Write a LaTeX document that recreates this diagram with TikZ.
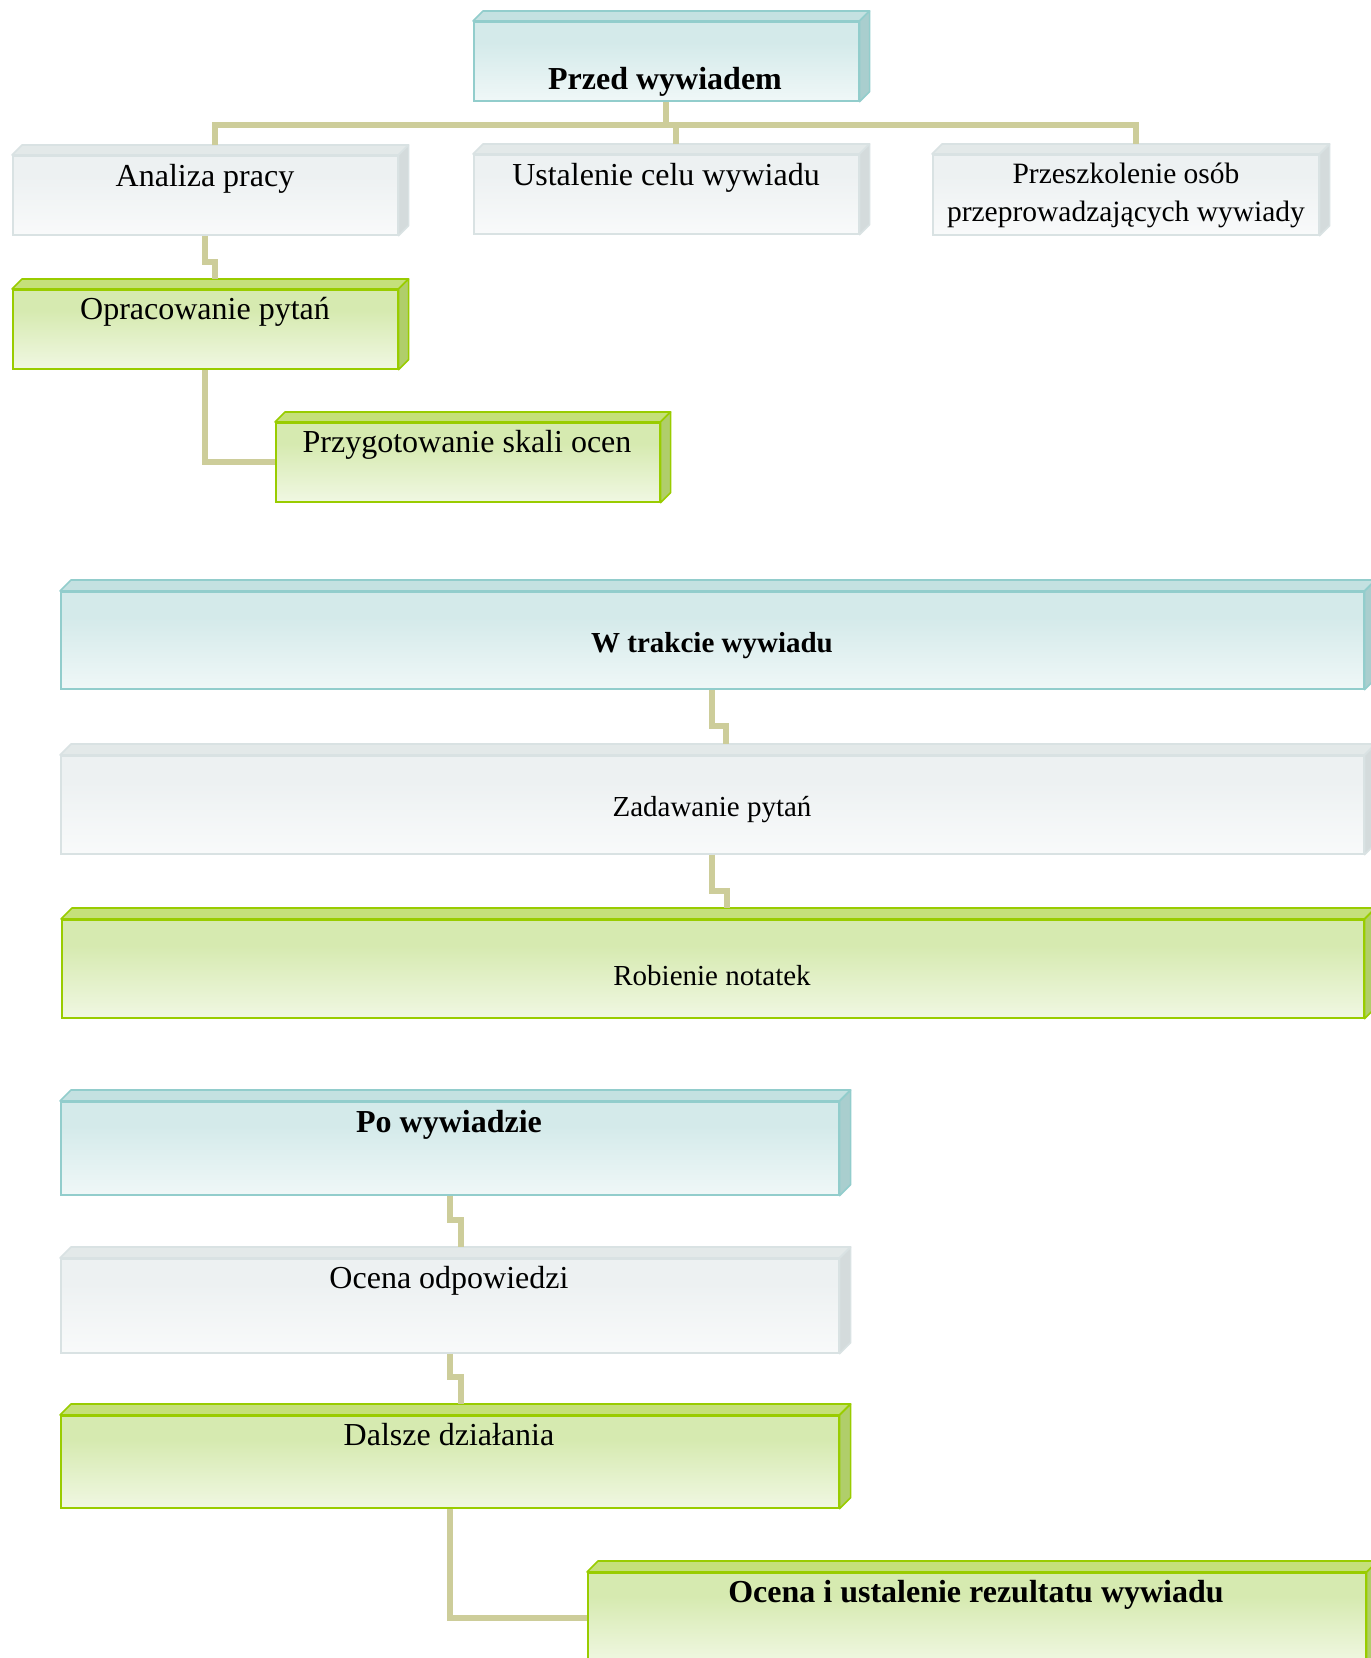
\documentclass[tikz,border=0pt]{standalone}
\usepackage{fontspec}
\setmainfont{Liberation Serif}
\usetikzlibrary{calc}
\definecolor{tealF}{HTML}{D4EAEA}
\definecolor{tealT}{HTML}{C4E1E1}
\definecolor{tealS}{HTML}{A9CECE}
\definecolor{tealB}{HTML}{92CDCC}
\definecolor{grayF}{HTML}{EDF1F2}
\definecolor{grayT}{HTML}{E3E9E9}
\definecolor{grayS}{HTML}{D4DBDC}
\definecolor{grayB}{HTML}{D9E2E3}
\definecolor{grnF}{HTML}{D6EAB0}
\definecolor{grnT}{HTML}{C5E07A}
\definecolor{grnS}{HTML}{B0CE6A}
\definecolor{grnB}{HTML}{99CC00}
\definecolor{connC}{HTML}{CDCD9A}
\pgfdeclareverticalshading{tealsh}{100bp}{color(0bp)=(white); color(4bp)=(white); color(62bp)=(tealF); color(100bp)=(tealF)}
\pgfdeclareverticalshading{graysh}{100bp}{color(0bp)=(white); color(4bp)=(white); color(62bp)=(grayF); color(100bp)=(grayF)}
\pgfdeclareverticalshading{grnsh}{100bp}{color(0bp)=(white); color(4bp)=(white); color(62bp)=(grnF); color(100bp)=(grnF)}
\newcommand{\cubebox}[7]{%
  \node[draw=#2B, line width=1.6pt, shade, shading=#2sh, inner sep=0pt, anchor=north west,
        minimum width={#5-#3}, minimum height={#6-#4}] (#1) at (#3,#4) {};
  \filldraw[fill=#2T, draw=#2B, line width=1.6pt, line join=round]
     (#1.north west) -- ++(#7,-#7) -- ($(#1.north east)+(#7,-#7)$) -- (#1.north east) -- cycle;
  \filldraw[fill=#2S, draw=#2B, line width=1.6pt, line join=round]
     (#1.north east) -- ++(#7,-#7) -- ($(#1.south east)+(#7,-#7)$) -- (#1.south east) -- cycle;
  \coordinate (#1-bt) at ($(#1.north)+(#7,-#7)$);
}
\tikzset{
  conn/.style={draw=connC, line width=6pt, line join=miter},
  lbl/.style={anchor=base, inner sep=0pt, font=\fontsize{32}{38}\selectfont},
  lblm/.style={anchor=base, inner sep=0pt, font=\fontsize{29}{35}\selectfont},
}
\begin{document}
\begin{tikzpicture}[x=1pt,y=-1pt]
\useasboundingbox (0,0) rectangle (1371,1658);
\fill[white] (0,0) rectangle (1371,1658);
\clip (0,0) rectangle (1371,1658);

% --- Przed wywiadem section ---
\cubebox{przed}{teal}{473}{21}{858}{100}{10}
\cubebox{analiza}{gray}{12}{155}{397}{234}{10}
\cubebox{ustal}{gray}{473}{154}{858}{233}{10}
\cubebox{przesz}{gray}{932}{154}{1318}{234}{10}
\cubebox{oprac}{grn}{12}{289}{397}{368}{10}
\cubebox{przyg}{grn}{275}{422}{659}{501}{10}

\coordinate (bus) at (665,125);
\draw[conn] (przed.south) -- (przed.south |- bus);
\draw[conn] (analiza-bt) |- (bus) -| (przesz-bt);
\draw[conn] (ustal-bt) -- (ustal-bt |- bus);
\draw[conn] (analiza.south) -- ++(0,26) -| (oprac-bt);
\draw[conn] (oprac.south) |- (przyg.west);

\node[lbl, font=\bfseries\fontsize{32}{38}\selectfont] (przed-t) at (665,89) {Przed wywiadem};
\node[lbl] (analiza-t) at (205,186) {Analiza pracy};
\node[lbl] (ustal-t) at (666,185) {Ustalenie celu wywiadu};
\node[lbl, font=\fontsize{29.5}{37.5}\selectfont, align=center] (przesz-t) at (1126,221) {Przeszkolenie osób\\przeprowadzających wywiady};
\node[lbl] (oprac-t) at (205,319) {Opracowanie pytań};
\node[lbl] (przyg-t) at (467,452) {Przygotowanie skali ocen};

% --- W trakcie wywiadu section ---
\cubebox{wtr}{teal}{60}{591}{1363}{688}{11}
\cubebox{zad}{gray}{60}{755}{1363}{853}{11}
\cubebox{rob}{grn}{61}{919}{1363}{1017}{11}
\coordinate (zad-in) at ($(zad.north)+(14,-11)$);
\coordinate (rob-in) at ($(rob.north)+(14,-11)$);

\draw[conn] (wtr.south) -- ++(0,36) -| (zad-in);
\draw[conn] (zad.south) -- ++(0,36) -| (rob-in);

\node[lblm, font=\bfseries\fontsize{29}{35}\selectfont] (wtr-t) at (712,652) {W trakcie wywiadu};
\node[lblm] (zad-t) at (712,816) {Zadawanie pytań};
\node[lblm] (rob-t) at (712,985) {Robienie notatek};

% --- Po wywiadzie section ---
\cubebox{po}{teal}{60}{1101}{838}{1194}{11}
\cubebox{ocena}{gray}{60}{1258}{838}{1352}{11}
\cubebox{dalsze}{grn}{60}{1415}{838}{1507}{11}
\cubebox{wynik}{grn}{587}{1572}{1365}{1662}{11}

\draw[conn] (po.south) -- ++(0,24) -| (ocena-bt);
\draw[conn] (ocena.south) -- ++(0,23) -| (dalsze-bt);
\draw[conn] (dalsze.south) |- (wynik.west);

\node[lbl, font=\bfseries\fontsize{32}{38}\selectfont] (po-t) at (449,1132) {Po wywiadzie};
\node[lbl] (ocena-t) at (449,1288) {Ocena odpowiedzi};
\node[lbl] (dalsze-t) at (449,1445) {Dalsze działania};
\node[lbl, font=\bfseries\fontsize{32}{38}\selectfont] (wynik-t) at (976,1602) {Ocena i ustalenie rezultatu wywiadu};
\end{tikzpicture}
\end{document}
